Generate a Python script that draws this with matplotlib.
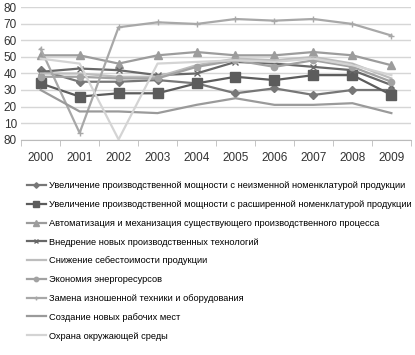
import matplotlib
matplotlib.use("Agg")
import matplotlib.pyplot as plt
import numpy as np

plt.rcParams['font.family'] = ['Liberation Sans', 'DejaVu Sans']

years = ["2000", "2001", "2002", "2003", "2004", "2005", "2006", "2007", "2008", "2009"]
ytick_values = [0, 10, 20, 30, 40, 50, 60, 70, 80]
ytick_labels = ["80", "10", "20", "30", "40", "50", "60", "70", "80"]

labels = [
    "Увеличение производственной мощности с неизменной номенклатурой продукции",
    "Увеличение производственной мощности с расширенной номенклатурой продукции",
    "Автоматизация и механизация существующего производственного процесса",
    "Внедрение новых производственных технологий",
    "Снижение себестоимости продукции",
    "Экономия энергоресурсов",
    "Замена изношенной техники и оборудования",
    "Создание новых рабочих мест",
    "Охрана окружающей среды",
]

s_const = [42, 35, 35, 36, 34, 28, 31, 27, 30, 30]
s_wide = [34, 26, 28, 28, 34, 38, 36, 39, 39, 27]
s_auto = [51, 51, 46, 51, 53, 51, 51, 53, 51, 45]
s_tech = [41, 43, 42, 39, 40, 47, 46, 44, 42, 33]
s_cost = [40, 40, 38, 38, 45, 49, 48, 50, 46, 37]
s_energy = [38, 38, 37, 37, 44, 48, 44, 48, 44, 35]
s_replace = [55, 4, 68, 71, 70, 73, 72, 73, 70, 63]
s_jobs = [30, 17, 17, 16, 21, 25, 21, 21, 22, 16]
s_env = [49, 46, 0, 46, 47, 48, 47, 49, 45, 39]

series = [s_const, s_wide, s_auto, s_tech, s_cost, s_energy, s_replace, s_jobs, s_env]
colors = ["#777777", "#5c5c5c", "#9c9c9c", "#686868", "#bdbdbd",
          "#a2a2a2", "#a8a8a8", "#9a9a9a", "#d4d4d4"]
markers = ["D", "s", "^", "x", "", "o", "+", "", ""]
msizes = [4, 6.5, 5.5, 4, 0, 4.5, 5, 0, 0]

fig = plt.figure(figsize=(4.15, 3.55), dpi=100)
ax = fig.add_axes([0.051, 0.607, 0.939, 0.372])

x = np.arange(len(years))
handles = []
for vals, c, m, ms, lab in zip(series, colors, markers, msizes, labels):
    h, = ax.plot(x, vals, color=c, lw=1.6, marker=m, markersize=ms,
                 markeredgecolor=c, markerfacecolor=c, label=lab)
    handles.append(h)

ax.set_xlim(-0.5, len(years) - 0.5)
ax.set_ylim(0, 80)
ax.set_yticks(ytick_values)
ax.set_yticklabels(ytick_labels, fontsize=8.5, color="#333333")
ax.set_xticks(x)
ax.set_xticklabels(years, fontsize=8.5, color="#333333")
ax.set_xticks(np.arange(-0.5, len(years), 1), minor=True)
ax.tick_params(axis="x", which="major", length=0, pad=9)
ax.tick_params(axis="x", which="minor", length=4, color="#bbbbbb")
ax.tick_params(axis="y", length=0, pad=3)
ax.yaxis.grid(True, color="#d6d6d6", lw=1)
ax.set_axisbelow(True)
for side in ["top", "right", "left"]:
    ax.spines[side].set_visible(False)
ax.spines["bottom"].set_color("#bbbbbb")

fig.legend(handles=handles, loc="upper left", bbox_to_anchor=(0.055, 0.50),
           frameon=False, fontsize=6.65, handlelength=2.1, handletextpad=0.35,
           labelspacing=1.06, borderaxespad=0, markerscale=0.7)

fig.savefig("out.png", dpi=100)
